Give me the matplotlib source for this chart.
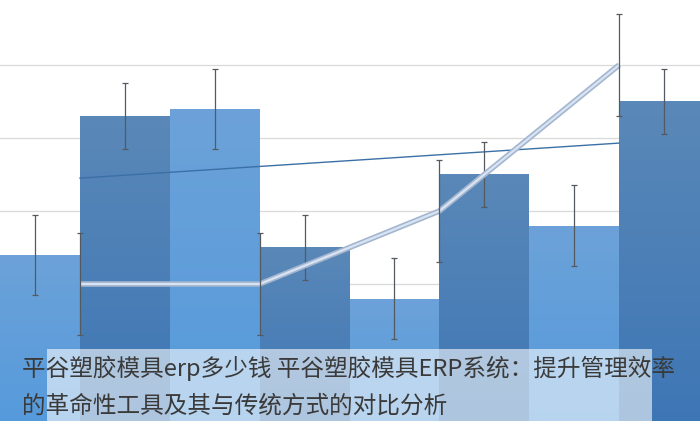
import numpy as np
import matplotlib
matplotlib.use("Agg")
import matplotlib.pyplot as plt
from matplotlib.patches import Rectangle

plt.rcParams['font.family'] = ['Noto Sans CJK SC', 'DejaVu Sans']

# bar series (8 bars, alternating shades)
bar_x = np.arange(8)
bar_values = [48, 86, 88, 50, 36, 70, 56, 90]
bar_errors = [11, 9, 11, 9, 11, 9, 11, 9]

# line series sits on the bar borders
line_x = [0.5, 2.5, 4.5, 6.5]
line_values = [40, 40, 60, 100]
line_errors = [14, 14, 14, 14]

# thin trend line
trend_x = [0.5, 6.5]
trend_values = [69, 78.6]

title_lines = ["平谷塑胶模具erp多少钱 平谷塑胶模具ERP系统：提升管理效率",
               "的革命性工具及其与传统方式的对比分析"]

fig = plt.figure(figsize=(7, 4.21), dpi=100)
ax = fig.add_axes([0, 0, 1, 1])
ax.set_xlim(-0.39, 7.40)
ax.set_ylim(2.47, 117.8)
ax.axis('off')

# gridlines
for g in [20, 40, 60, 80, 100]:
    ax.axhline(g, color='#d9d9d9', lw=0.9, zorder=0)

# bars with vertical gradient
dark = (np.array([0x5a, 0x88, 0xb8]) / 255, np.array([0x3d, 0x76, 0xb5]) / 255)
light = (np.array([0x6c, 0xa2, 0xd8]) / 255, np.array([0x55, 0x9a, 0xdc]) / 255)
for i, (x, v) in enumerate(zip(bar_x, bar_values)):
    top, bot = light if i % 2 == 0 else dark
    t = np.linspace(0, 1, 100)[:, None]
    grad = top[None, :] * (1 - t) + bot[None, :] * t
    grad = grad[:, None, :]
    rect = Rectangle((x - 0.5, 0), 1.0, v, facecolor='none', edgecolor='none')
    ax.add_patch(rect)
    im = ax.imshow(grad, extent=(x - 0.5, x + 0.5, 0, v), aspect='auto',
                   origin='upper', zorder=1, interpolation='bilinear')
    im.set_clip_path(rect)

ax.errorbar(bar_x, bar_values, yerr=bar_errors, fmt='none', ecolor='#555a60',
            elinewidth=0.9, capsize=2, capthick=0.9, zorder=3)

# trend line
ax.plot(trend_x, trend_values, color='#3b70a6', lw=1.0, zorder=2)

# thick pale line
ax.plot(line_x, line_values, color='#a4b6cf', lw=4.0, solid_capstyle='butt', zorder=4)
ax.plot(line_x, line_values, color='#d8e4f3', lw=1.6, solid_capstyle='butt', zorder=5)
ax.errorbar(line_x, line_values, yerr=line_errors, fmt='none', ecolor='#555a60',
            elinewidth=0.9, capsize=2, capthick=0.9, zorder=6)

# caption overlay
fig.patches.append(Rectangle((47 / 700, 0), (652 - 47) / 700, (421 - 349) / 421,
                             transform=fig.transFigure, facecolor='white',
                             alpha=0.58, edgecolor='none', zorder=10))
for k, yp in enumerate([368, 406]):
    fig.text(22 / 700, 1 - yp / 421, title_lines[k], fontsize=17, color='#3a3a3a',
             fontweight='light', va='center', ha='left', zorder=11)

fig.savefig('out.png', dpi=100)
